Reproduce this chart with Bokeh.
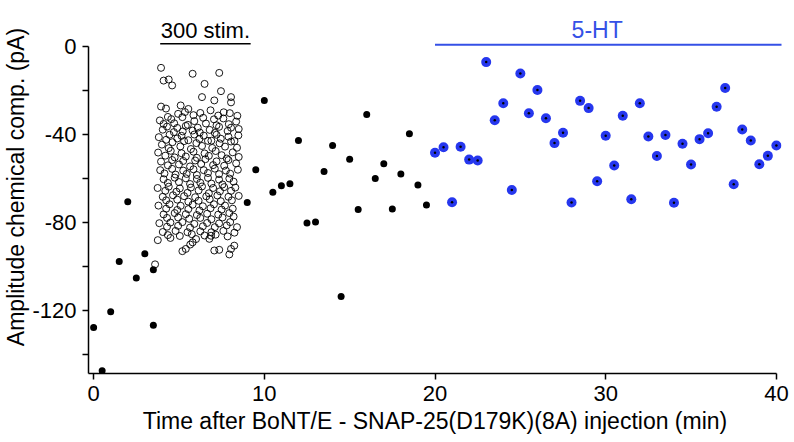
from bokeh.plotting import figure
from bokeh.models import FixedTicker, Range1d
from bokeh.core.properties import value
from bokeh.embed import file_html
from bokeh.resources import INLINE

# ---- data ----
pre_x = [0.0, 0.5, 1.0, 1.5, 2.0, 2.5, 3.0, 3.5, 3.5]
pre_y = [-127.7, -147.4, -120.5, -97.7, -70.5, -105.2, -94.2, -101.5, -126.7]

post_x = [9.0, 9.5, 10.0, 10.5, 11.0, 11.5, 12.0, 12.5, 13.0, 13.5, 14.0,
          14.5, 15.0, 15.5, 16.0, 16.5, 17.0, 17.5, 18.0, 18.5, 19.0, 19.5]
post_y = [-70.9, -56.0, -24.5, -66.2, -63.3, -62.4, -42.7, -80.2, -79.7, -56.8, -45.0,
          -113.6, -51.2, -74.1, -30.9, -60.0, -53.3, -73.9, -57.9, -39.7, -62.9, -72.0]

ht_x = [20.0, 20.5, 21.0, 21.5, 22.0, 22.5, 23.0, 23.5, 24.0, 24.5, 25.0,
        25.5, 26.0, 26.5, 27.0, 27.5, 28.0, 28.5, 29.0, 29.5, 30.0, 30.5,
        31.0, 31.5, 32.0, 32.5, 33.0, 33.5, 34.0, 34.5, 35.0, 35.5, 36.0,
        36.5, 37.0, 37.5, 38.0, 38.5, 39.0, 39.5, 40.0]
ht_y = [-48.3, -45.8, -70.8, -45.6, -51.4, -51.8, -7.1, -33.5, -25.8, -65.2, -12.3,
        -30.3, -19.8, -32.6, -43.9, -39.2, -70.9, -24.7, -28.0, -61.2, -40.6, -54.1,
        -31.5, -69.4, -25.8, -40.9, -49.8, -40.2, -71.0, -44.2, -53.6, -42.1, -39.4,
        -27.4, -18.9, -62.6, -37.7, -42.7, -53.5, -49.7, -45.0]

stim_points = [
    (3.95, -9.7), (5.8, -12.4), (7.36, -12.0), (4.1, -15.5), (4.4, -15.0), (4.6, -17.7),
    (6.5, -17.0), (7.46, -20.3), (6.35, -23.0), (8.05, -23.0), (8.05, -25.4), (7.07, -24.5),
    (3.95, -27.3), (4.24, -28.2), (5.1, -26.8),
    (5.35, -29.8), (5.55, -28.4), (5.85, -31.2), (4.95, -30.6), (6.25, -30.2), (6.85, -29.0),
    (7.3, -31.4), (7.62, -29.9), (7.98, -30.3), (8.42, -31.5), (4.35, -32.0),
    (3.88, -33.6), (4.1, -35.2), (4.55, -33.0), (4.72, -34.9), (5.2, -32.1), (5.52, -35.6),
    (5.9, -33.9), (6.42, -32.4), (6.58, -35.0), (7.05, -33.1), (7.2, -35.8), (7.6, -32.7),
    (7.92, -35.3), (8.35, -34.1),
    (4.05, -37.8), (4.3, -36.4), (4.7, -38.9), (4.9, -37.0), (5.22, -38.6), (5.4, -36.1),
    (5.8, -38.2), (6.1, -36.9), (6.22, -39.1), (6.8, -37.9), (7.1, -39.3), (7.35, -36.5),
    (7.85, -38.4), (8.05, -36.9), (8.5, -37.5),
    (3.82, -41.2), (4.25, -42.4), (4.45, -40.1), (4.9, -41.8), (5.15, -40.6), (5.55, -42.6),
    (5.9, -40.0), (6.2, -42.0), (6.45, -40.5), (6.9, -42.8), (7.2, -40.1), (7.45, -41.9),
    (7.9, -41.0), (8.25, -43.0), (8.48, -40.4),
    (4.0, -44.6), (4.4, -46.2), (4.62, -43.5), (5.08, -45.4), (5.3, -43.0), (5.7, -46.6),
    (6.02, -43.9), (6.35, -45.2), (6.7, -42.9), (6.95, -46.1), (7.38, -44.0), (7.7, -45.5),
    (8.05, -43.2), (8.4, -46.0),
    (3.78, -48.2), (4.2, -49.6), (4.52, -47.4), (4.75, -50.4), (5.15, -48.5), (5.4, -50.0),
    (5.85, -47.8), (6.05, -50.6), (6.5, -48.6), (6.75, -49.7), (7.15, -47.5), (7.5, -49.4),
    (7.8, -50.9), (8.15, -48.1), (8.5, -50.2),
    (3.95, -52.3), (4.35, -54.0), (4.6, -51.6), (5.0, -53.6), (5.25, -52.0), (5.65, -54.5),
    (5.95, -51.8), (6.3, -53.4), (6.55, -51.2), (7.0, -53.9), (7.2, -52.2), (7.65, -54.2),
    (7.9, -51.6), (8.35, -53.1),
    (3.9, -56.2), (4.15, -57.7), (4.6, -55.6), (4.8, -58.2), (5.25, -56.4), (5.45, -57.9),
    (5.85, -55.8), (6.05, -58.4), (6.45, -56.2), (6.7, -57.5), (7.1, -55.5), (7.35, -58.0),
    (7.75, -56.4), (8.0, -57.8), (8.45, -56.0),
    (4.1, -60.3), (4.35, -62.0), (4.75, -59.6), (5.0, -61.6), (5.4, -59.9), (5.65, -62.5),
    (6.05, -60.2), (6.25, -61.9), (6.7, -59.7), (6.9, -62.3), (7.35, -60.5), (7.55, -62.7),
    (7.95, -60.0), (8.2, -61.4),
    (3.75, -64.3), (4.2, -65.6), (4.4, -63.7), (4.85, -66.0), (5.05, -64.5), (5.5, -66.5),
    (5.7, -64.1), (6.15, -65.4), (6.35, -63.6), (6.75, -66.7), (7.0, -64.3), (7.4, -65.8),
    (7.65, -63.9), (8.05, -65.6), (8.3, -64.1),
    (4.05, -68.3), (4.25, -69.9), (4.65, -67.6), (4.9, -69.6), (5.3, -68.0), (5.55, -70.5),
    (5.95, -68.5), (6.15, -70.1), (6.6, -68.1), (6.8, -69.4), (7.25, -67.7), (7.45, -70.3),
    (7.9, -68.3), (8.1, -69.9), (8.5, -67.9),
    (3.8, -72.3), (4.25, -73.7), (4.45, -71.7), (4.9, -74.3), (5.1, -72.4), (5.55, -73.9),
    (5.8, -71.9), (6.2, -74.5), (6.4, -72.6), (6.85, -73.5), (7.05, -71.7), (7.5, -74.1),
    (7.7, -72.3), (8.15, -73.7),
    (4.1, -76.3), (4.3, -77.9), (4.75, -75.7), (4.95, -77.7), (5.4, -76.2), (5.6, -78.3),
    (6.05, -76.6), (6.25, -77.9), (6.65, -76.0), (6.9, -78.5), (7.3, -76.4), (7.55, -77.7),
    (7.95, -75.7), (8.2, -77.3),
    (3.85, -80.3), (4.3, -81.9), (4.5, -80.0), (4.95, -81.5), (5.2, -79.8), (5.65, -82.3),
    (5.9, -80.6), (6.4, -81.7), (6.65, -80.2), (7.1, -82.1), (7.35, -80.4), (7.8, -81.3),
    (8.0, -79.8), (8.4, -82.1),
    (4.05, -84.3), (4.35, -85.7), (4.8, -83.8), (5.05, -86.1), (5.5, -84.4), (5.75, -85.3),
    (6.25, -84.0), (6.5, -85.9), (6.9, -84.4), (7.15, -85.5), (7.6, -83.8), (7.85, -86.3),
    (8.25, -84.6),
    (3.76, -88.0), (5.2, -93.0), (5.4, -92.0), (5.66, -90.0), (5.8, -89.0), (7.07, -92.7),
    (7.36, -92.4), (7.95, -94.5), (8.05, -92.0), (8.24, -90.5), (3.6, -99.0), (6.78, -87.4),
    (6.88, -86.0), (4.5, -87.0), (6.0, -87.5),
]
stim_x = [pt[0] for pt in stim_points]
stim_y = [pt[1] for pt in stim_points]

stim_window = [3.9, 9.2]
ht_window = [20.0, 40.5]
stim_label = "300 stim."
ht_label = "5-HT"

x_ticks = [0, 10, 20, 30, 40]
y_ticks = [0, -20, -40, -60, -80, -100, -120, -140]
y_tick_labels = {0: "0", -20: "", -40: "-40", -60: "", -80: "-80", -100: "", -120: "-120", -140: ""}
x_tick_labels = {0: "0", 10: "10", 20: "20", 30: "30", 40: "40"}

FONT = "Liberation Sans"
BLUE = "#2637ee"
LINE_BLUE = "#3550e6"

p = figure(width=794, height=442, output_backend="svg", toolbar_location=None,
           x_range=Range1d(-0.3, 40.3), y_range=Range1d(-148.6, 20.9),
           min_border_left=87, min_border_right=13, min_border_top=0, min_border_bottom=69)
p.grid.visible = False
p.outline_line_color = None
p.background_fill_color = "white"
p.border_fill_color = "white"

for ax in (p.xaxis, p.yaxis):
    ax.axis_line_width = 1.5
    ax.axis_line_color = "black"
    ax.major_tick_line_width = 1.5
    ax.major_tick_line_color = "black"
    ax.major_tick_out = 6
    ax.major_tick_in = 0
    ax.minor_tick_line_color = None
    ax.major_label_text_font = FONT
    ax.major_label_text_font_size = "22px"
    ax.major_label_text_color = "black"
    ax.axis_label_text_font = FONT
    ax.axis_label_text_font_style = "normal"
    ax.axis_label_text_font_size = "23px"
    ax.axis_label_text_color = "black"

p.xaxis.ticker = FixedTicker(ticks=x_ticks)
p.xaxis.major_label_overrides = x_tick_labels
p.xaxis.bounds = (-0.3, 40)
p.xaxis.major_label_standoff = 6
p.xaxis.axis_label = "Time after BoNT/E - SNAP-25(D179K)(8A) injection (min)"
p.xaxis.axis_label_standoff = 4

p.yaxis.ticker = FixedTicker(ticks=y_ticks)
p.yaxis.major_label_overrides = y_tick_labels
p.yaxis.bounds = (-148.6, 0)
p.yaxis.major_label_standoff = 6
p.yaxis.axis_label = "Amplitude chemical comp. (pA)"
p.yaxis.axis_label_standoff = 0

# data marks
p.scatter(stim_x, stim_y, size=7, marker="circle", fill_color=None, line_color="black", line_width=0.9)
p.scatter(pre_x, pre_y, size=7, marker="circle", fill_color="black", line_color=None)
p.scatter(post_x, post_y, size=7, marker="circle", fill_color="black", line_color=None)
p.scatter(ht_x, ht_y, size=10, marker="circle", fill_color=BLUE, line_color=None)
p.scatter(ht_x, ht_y, size=2.5, marker="circle", fill_color="black", line_color=None)

# annotations
p.segment(x0=[stim_window[0]], x1=[stim_window[1]], y0=[1.2], y1=[1.2], line_color="black", line_width=1.5)
p.text(x=[sum(stim_window) / 2], y=[1.6], text=[stim_label], text_align="center", text_baseline="bottom",
       text_font=value(FONT), text_font_size="22px", text_color="black")
p.segment(x0=[ht_window[0]], x1=[ht_window[1]], y0=[0.8], y1=[0.8], line_color=LINE_BLUE, line_width=2)
p.text(x=[29.5], y=[1.4], text=[ht_label], text_align="center", text_baseline="bottom",
       text_font=value(FONT), text_font_size="23px", text_color=LINE_BLUE)

open("out.html", "w").write(file_html(p, INLINE))
